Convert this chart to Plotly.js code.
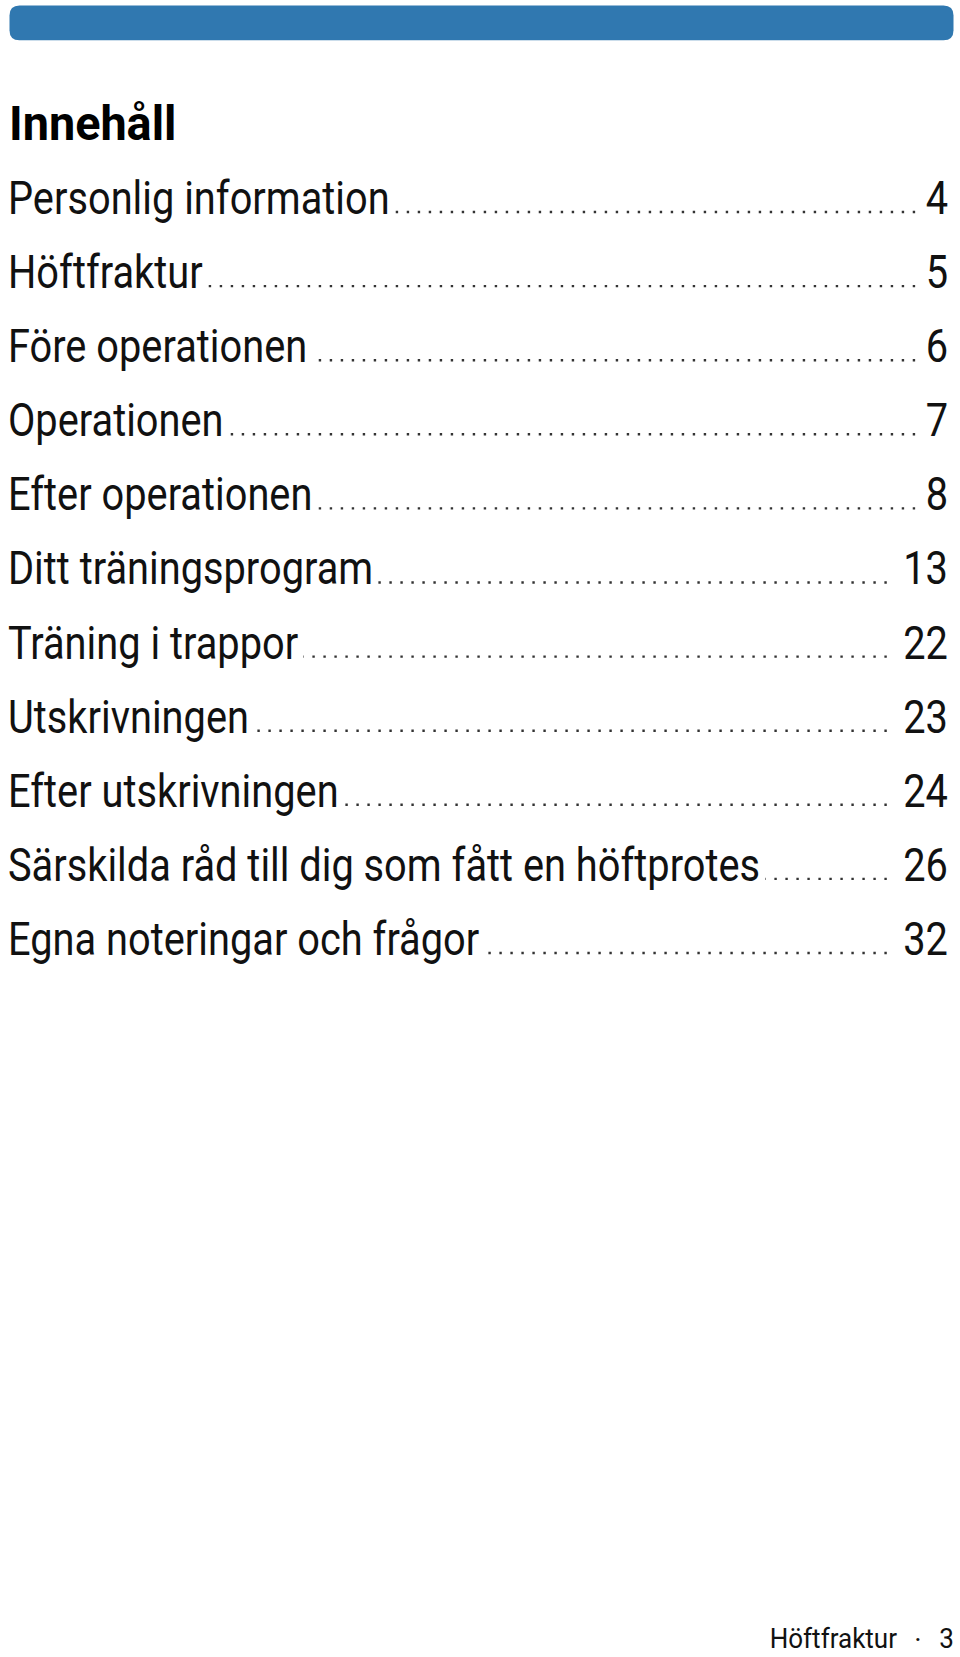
<!DOCTYPE html>
<html><head><meta charset="utf-8">
<script src="https://cdn.plot.ly/plotly-3.0.1.min.js"></script>
<style>html,body{margin:0;padding:0;background:#fff}</style>
</head><body><div id="chart" style="width:960px;height:1657px"></div>
<script>
// ---- data ----
const entries = ["Personlig information","Höftfraktur","Före operationen","Operationen","Efter operationen","Ditt träningsprogram","Träning i trappor","Utskrivningen","Efter utskrivningen","Särskilda råd till dig som fått en höftprotes","Egna noteringar och frågor"];
const pages = [4,5,6,7,8,13,22,23,24,26,32];
const heading = "Innehåll";
const footerLabel = "Höftfraktur";
const footerPage = "3";

// ---- layout / style constants ----
const W = 960, H = 1657;
const FAM = 'Roboto, "Liberation Sans", Arial, sans-serif';
const FS = 46, SX = 0.865;         // body size and horizontal condensing
const HFS = 49, HSX = 0.955;       // heading
const FFS = 28, FSX = 0.93;        // footer
const firstBase = 214, rowStep = 74.1;
const rowTop = firstBase - 0.25*FS;   // plotly puts baseline 0.25*size below a 'middle' text point
const textLeft = 8, numRight = 948;
const footBase = 1648.5;

const ctx = document.createElement('canvas').getContext('2d');
function tw(s, size, weight){ ctx.font = (weight||'normal') + ' ' + size + 'px ' + FAM; return ctx.measureText(s).width; }

const idx = entries.map((_, i) => i);
const traces = [];
traces.push({type:'scatter', mode:'text', x: entries.map(()=>textLeft), y: idx, text: entries,
  textposition:'middle right', textfont:{family:FAM, size:FS, color:'#111'}, hoverinfo:'skip', showlegend:false});
traces.push({type:'scatter', mode:'text', x: pages.map(()=>numRight), y: idx, text: pages.map(String),
  textposition:'middle left', textfont:{family:FAM, size:FS, color:'#111'}, hoverinfo:'skip', showlegend:false});

// dotted leaders, drawn from the page number leftwards so a dot always sits at the right end
const dotOff = (0.25*FS - 2) / rowStep;
entries.forEach((t, i) => {
  const x0 = textLeft + tw(t, FS)*SX + 5;
  const nw = tw(String(pages[i]), FS)*SX;
  const x1 = numRight - 1.5 - nw - (pages[i] >= 10 ? 15 : 9);
  traces.push({type:'scatter', mode:'lines', x:[x1, x0], y:[i + dotOff, i + dotOff],
    line:{color:'#333', width:2.4, dash:'2.4px,8.6px'}, hoverinfo:'skip', showlegend:false});
});

// heading and footer on a pixel axis
const squeeze = {0: SX, 1: SX};
squeeze[traces.length] = HSX;
traces.push({type:'scatter', mode:'text', x:[9], y:[140.5 - 0.25*HFS], yaxis:'y2', text:[heading],
  textposition:'middle right', textfont:{family:FAM, size:HFS, color:'#000', weight:'bold'}, hoverinfo:'skip', showlegend:false});
squeeze[traces.length] = FSX;
traces.push({type:'scatter', mode:'text', x:[897], y:[footBase - 0.25*FFS], yaxis:'y2', text:[footerLabel],
  textposition:'middle left', textfont:{family:FAM, size:FFS, color:'#111'}, hoverinfo:'skip', showlegend:false});
traces.push({type:'scatter', mode:'text', x:[918], y:[footBase - 0.25*FFS], yaxis:'y2', text:['·'],
  textposition:'middle center', textfont:{family:FAM, size:FFS, color:'#111'}, hoverinfo:'skip', showlegend:false});
squeeze[traces.length] = FSX;
traces.push({type:'scatter', mode:'text', x:[954], y:[footBase - 0.25*FFS], yaxis:'y2', text:[footerPage],
  textposition:'middle left', textfont:{family:FAM, size:FFS, color:'#111'}, hoverinfo:'skip', showlegend:false});

const r = 10, bx0 = 9.5, bx1 = 953.5, by0 = 5.5, by1 = 40.3;
const barPath = `M${bx0+r},${by0} L${bx1-r},${by0} Q${bx1},${by0} ${bx1},${by0+r} L${bx1},${by1-r} Q${bx1},${by1} ${bx1-r},${by1} L${bx0+r},${by1} Q${bx0},${by1} ${bx0},${by1-r} L${bx0},${by0+r} Q${bx0},${by0} ${bx0+r},${by0} Z`;

const layout = {
  width: W, height: H, margin:{l:0,r:0,t:0,b:0,pad:0},
  paper_bgcolor:'#fff', plot_bgcolor:'#fff',
  xaxis:{range:[0,W], visible:false, fixedrange:true},
  yaxis:{range:[(H-rowTop)/rowStep, -rowTop/rowStep], visible:false, fixedrange:true},
  yaxis2:{range:[H,0], overlaying:'y', visible:false, fixedrange:true},
  shapes:[{type:'path', xref:'x', yref:'y2', path:barPath, fillcolor:'#3078b0', line:{width:0}}],
  showlegend:false
};
Plotly.newPlot('chart', traces, layout, {staticPlot:true, displayModeBar:false}).then(gd => {
  // condense glyphs horizontally, around each text's anchor x
  const groups = gd.querySelectorAll('.scatterlayer .trace');
  groups.forEach((g, ti) => {
    const sx = squeeze[ti];
    if (!sx) return;
    g.querySelectorAll('.textpoint text').forEach(t => {
      const x = parseFloat(t.getAttribute('x')) || 0;
      t.setAttribute('transform', `matrix(${sx},0,0,1,${x*(1-sx)},0)`);
    });
  });
});
</script></body></html>
